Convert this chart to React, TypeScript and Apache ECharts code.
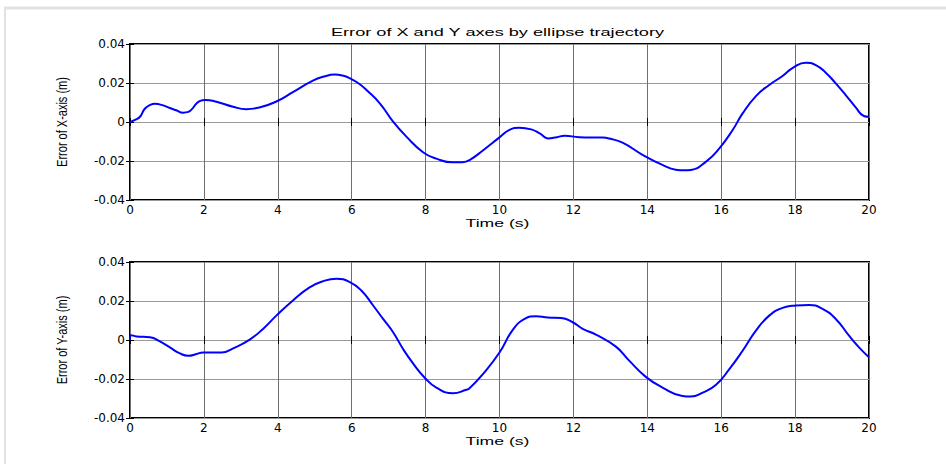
import React, { useEffect, useRef } from "react";
import * as echarts from "echarts";

const titleText = "Error of X and Y axes by ellipse trajectory";
const xAxisName = "Time (s)";
const yNameTop = "Error of X-axis (m)";
const yNameBottom = "Error of Y-axis (m)";

const timeX = [0, 0.15, 0.27, 0.4, 0.55, 0.68, 0.85, 1.08, 1.25, 1.44, 1.58, 1.67, 1.8, 1.9, 2.03, 2.34, 2.79, 3.15, 3.5, 3.96, 4.41, 4.95, 5.25, 5.54, 5.75, 5.95, 6.2, 6.4, 6.76, 7.12, 7.48, 7.93, 8.29, 8.74, 9.0, 9.19, 9.55, 10.0, 10.27, 10.54, 10.86, 11.1, 11.31, 11.55, 11.76, 12.16, 12.79, 12.97, 13.33, 13.87, 14.41, 14.77, 15.0, 15.18, 15.59, 15.95, 16.31, 16.58, 16.94, 17.3, 17.66, 17.97, 18.29, 18.56, 18.83, 19.1, 19.37, 19.64, 19.86, 20];
const errX = [0, 0.0012, 0.0027, 0.0068, 0.0088, 0.0093, 0.0088, 0.0072, 0.006, 0.0048, 0.0052, 0.0065, 0.0095, 0.0108, 0.0113, 0.0104, 0.0078, 0.0066, 0.0074, 0.0105, 0.0153, 0.0212, 0.0233, 0.0243, 0.0238, 0.0224, 0.0196, 0.0164, 0.0096, 0.0002, -0.0075, -0.0155, -0.0188, -0.0207, -0.0206, -0.0195, -0.0146, -0.0079, -0.004, -0.0029, -0.0038, -0.006, -0.0084, -0.0078, -0.007, -0.0078, -0.008, -0.0085, -0.0106, -0.0168, -0.022, -0.0245, -0.0248, -0.0246, -0.0203, -0.0135, -0.0041, 0.0044, 0.0133, 0.019, 0.0236, 0.0282, 0.0304, 0.0292, 0.0253, 0.0198, 0.0138, 0.0075, 0.0031, 0.0027];

const timeY = [0, 0.03, 0.18, 0.54, 0.81, 1.08, 1.35, 1.58, 1.8, 1.98, 2.48, 2.79, 3.24, 3.6, 3.96, 4.41, 4.86, 5.23, 5.59, 5.95, 6.26, 6.58, 6.85, 7.12, 7.39, 7.66, 7.97, 8.29, 8.74, 9.1, 9.19, 9.55, 10.0, 10.36, 10.68, 10.99, 11.31, 11.67, 11.98, 12.25, 12.61, 13.15, 13.51, 13.96, 14.41, 14.95, 15.18, 15.5, 15.86, 16.22, 16.58, 16.94, 17.3, 17.66, 18.02, 18.38, 18.74, 19.1, 19.46, 19.73, 20];
const errY = [0, 0.0025, 0.0018, 0.0014, -0.0007, -0.0038, -0.0069, -0.0081, -0.0072, -0.0064, -0.0064, -0.0043, 0.0002, 0.0057, 0.0125, 0.0203, 0.027, 0.0302, 0.0314, 0.0297, 0.0254, 0.0177, 0.0108, 0.004, -0.0046, -0.012, -0.0192, -0.0244, -0.0273, -0.0255, -0.0247, -0.0175, -0.0064, 0.0052, 0.0108, 0.0122, 0.0115, 0.0113, 0.0091, 0.0057, 0.0027, -0.0034, -0.0106, -0.0189, -0.0244, -0.0287, -0.029, -0.027, -0.023, -0.0149, -0.0055, 0.0048, 0.0125, 0.0165, 0.0177, 0.018, 0.016, 0.0108, 0.0022, -0.0038, -0.0089];

const xMin = 0, xMax = 20, xStep = 2;
const yMin = -0.04, yMax = 0.04, yStep = 0.02;

const labelFont = { fontFamily: "DejaVu Sans", fontSize: 12, color: "#000" };

function makeAxes(gridIndex: number) {
  const xs = [
    {
      type: "value", gridIndex, min: xMin, max: xMax, interval: xStep, position: "bottom",
      axisLine: { show: false },
      axisTick: { show: true, inside: true, length: 4, lineStyle: { color: "#000", width: 1 } },
      axisLabel: { ...labelFont, margin: 4, formatter: (v: number) => String(v) },
      splitLine: { show: true, lineStyle: { color: "#6e6e6e", width: 1 } },
    },
    {
      type: "value", gridIndex, min: xMin, max: xMax, interval: xStep, position: "top",
      axisLine: { show: false },
      axisTick: { show: true, inside: true, length: 4, lineStyle: { color: "#000", width: 1 } },
      axisLabel: { show: false },
      splitLine: { show: false },
    },
  ];
  const ys = [
    {
      type: "value", gridIndex, min: yMin, max: yMax, interval: yStep, position: "left",
      axisLine: { show: false },
      axisTick: { show: true, inside: true, length: 4, lineStyle: { color: "#000", width: 1 } },
      axisLabel: { ...labelFont, margin: 5, formatter: (v: number) => String(Number(v.toFixed(2))) },
      splitLine: { show: true, lineStyle: { color: "#9a9a9a", width: 1 } },
    },
    {
      type: "value", gridIndex, min: yMin, max: yMax, interval: yStep, position: "right",
      axisLine: { show: false },
      axisTick: { show: true, inside: true, length: 4, lineStyle: { color: "#000", width: 1 } },
      axisLabel: { show: false },
      splitLine: { show: false },
    },
  ];
  return { xs, ys };
}

export default function App() {
  const ref = useRef<HTMLDivElement>(null);
  useEffect(() => {
    if (!ref.current) return;
    const chart = echarts.init(ref.current, undefined, { renderer: "svg" });
    const a0 = makeAxes(0);
    const a1 = makeAxes(1);
    const lineSeries = (xi: number, yi: number, ts: number[], vs: number[]) => ({
      type: "line",
      xAxisIndex: xi,
      yAxisIndex: yi,
      data: ts.map((t, i) => [t, vs[i]]),
      showSymbol: false,
      smooth: 0.5,
      lineStyle: { color: "#0000ff", width: 2 },
      z: 5,
    });
    const nameText = (txt: string, x: number, y: number, opts: any = {}) => ({
      type: "text",
      x, y,
      ...opts,
      style: {
        text: txt,
        fill: "#000",
        fontFamily: "Liberation Sans",
        fontSize: 11,
        align: "center",
        verticalAlign: "middle",
      },
    });
    chart.setOption({
      animation: false,
      backgroundColor: "#fff",
      grid: [
        { left: 130, top: 44, width: 739, height: 156, show: true, borderColor: "#000", borderWidth: 2, backgroundColor: "transparent" },
        { left: 130, top: 262, width: 739, height: 156, show: true, borderColor: "#000", borderWidth: 2, backgroundColor: "transparent" },
      ],
      xAxis: [...a0.xs, ...a1.xs],
      yAxis: [...a0.ys, ...a1.ys],
      series: [lineSeries(0, 0, timeX, errX), lineSeries(2, 2, timeY, errY)],
      graphic: [
        { type: "line", shape: { x1: 4, y1: 8, x2: 946, y2: 8 }, style: { stroke: "#e2e2e2", lineWidth: 3 } },
        { type: "line", shape: { x1: 5, y1: 7, x2: 5, y2: 464 }, style: { stroke: "#e2e2e2", lineWidth: 2 } },
        nameText(titleText, 497.5, 32, { scaleX: 1.65 }),
        nameText(xAxisName, 497.5, 223, { scaleX: 1.6 }),
        nameText(xAxisName, 497.5, 441, { scaleX: 1.6 }),
        nameText(yNameTop, 62, 122, { rotation: Math.PI / 2, scaleY: 1.3 }),
        nameText(yNameBottom, 62, 340, { rotation: Math.PI / 2, scaleY: 1.3 }),
      ],
    });
    return () => chart.dispose();
  }, []);
  return (
    <div
      ref={ref}
      style={{ position: "absolute", left: 0, top: 0, width: 946, height: 464, background: "#fff" }}
    />
  );
}
